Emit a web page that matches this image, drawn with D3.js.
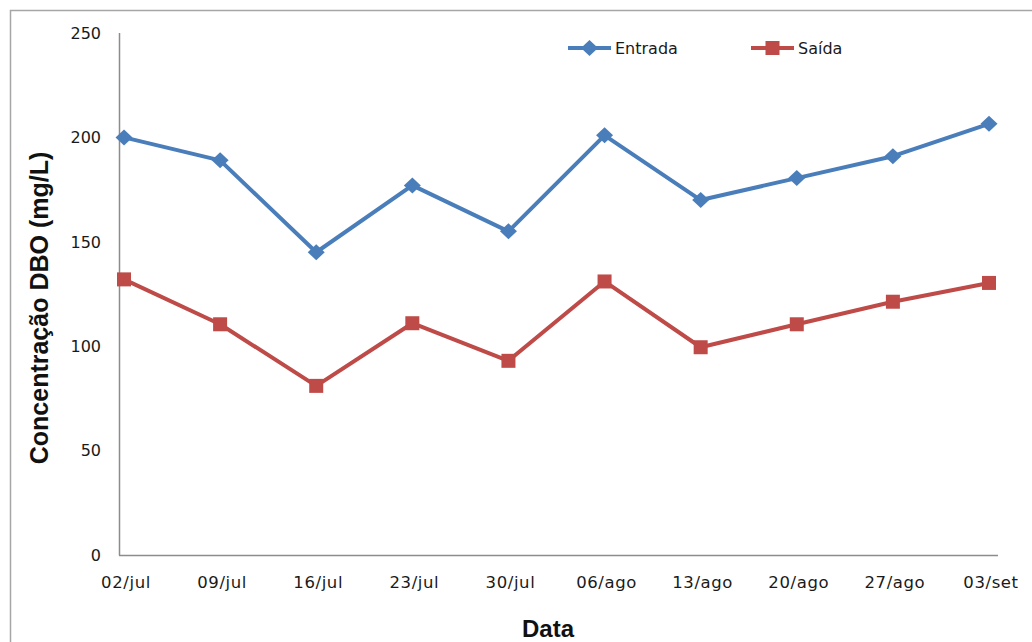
<!DOCTYPE html>
<html><head><meta charset="utf-8">
<script src="https://cdn.jsdelivr.net/npm/d3@7"></script>
<style>body{margin:0;background:#fff}</style>
</head><body>
<svg id="c" width="1032" height="642"></svg>
<script>
const categories = ["02/jul","09/jul","16/jul","23/jul","30/jul","06/ago","13/ago","20/ago","27/ago","03/set"];
const entrada = [200, 189, 145, 177, 155, 201, 170, 180.5, 191, 206.5];
const saida   = [132, 110.5, 81, 111, 93, 131, 99.5, 110.5, 121.3, 130.3];
const yTicks = [0, 50, 100, 150, 200, 250];
const seriesNames = ["Entrada", "Saída"];

const svg = d3.select("#c");
// outer frame
svg.append("rect").attr("x",10.5).attr("y",10.5).attr("width",1040).attr("height",660)
  .attr("fill","none").attr("stroke","#a6a6a6").attr("stroke-width",1.5);

const x = d3.scalePoint().domain(categories).range([124, 989]);
const y = d3.scaleLinear().domain([0, 250]).range([555, 33]);
const font = "DejaVu Sans, Verdana, sans-serif";

// axes lines
svg.append("line").attr("x1",119.5).attr("x2",119.5).attr("y1",33).attr("y2",555.5)
  .attr("stroke","#8c8c8c").attr("stroke-width",1.5);
svg.append("line").attr("x1",119).attr("x2",998).attr("y1",555.5).attr("y2",555.5)
  .attr("stroke","#8c8c8c").attr("stroke-width",1.5);

// y tick labels
svg.append("g").selectAll("text").data(yTicks).join("text")
  .attr("x",101).attr("y",d=>y(d)).attr("dy","0.36em")
  .attr("text-anchor","end").attr("font-family",font).attr("font-size",16).attr("fill","#1a1a1a")
  .text(d=>d);

// x tick labels
svg.append("g").selectAll("text").data(categories).join("text")
  .attr("x",d=>x(d)+2).attr("y",588)
  .attr("text-anchor","middle").attr("font-family",font).attr("font-size",16.5)
  .attr("letter-spacing",0.6).attr("fill","#1a1a1a")
  .text(d=>d);

// axis titles
svg.append("text").attr("transform","translate(48,308) rotate(-90)")
  .attr("text-anchor","middle").attr("font-family","Liberation Sans, Arial, sans-serif")
  .attr("font-weight","bold").attr("font-size",25).attr("fill","#111")
  .text("Concentração DBO (mg/L)");
svg.append("text").attr("x",548).attr("y",637)
  .attr("text-anchor","middle").attr("font-family","Liberation Sans, Arial, sans-serif")
  .attr("font-weight","bold").attr("font-size",24).attr("fill","#111")
  .text("Data");

const colors = ["#4a7ebb", "#be4b48"];
const data = [entrada, saida];
const line = d3.line().x((d,i)=>x(categories[i])).y(d=>y(d));

data.forEach((vals, s) => {
  svg.append("path").datum(vals).attr("d", line)
    .attr("fill","none").attr("stroke",colors[s]).attr("stroke-width",4).attr("stroke-linejoin","round");
});
// markers
const diamond = "M0,-8L8.5,0L0,8L-8.5,0Z";
svg.append("g").selectAll("path").data(entrada).join("path")
  .attr("transform",(d,i)=>`translate(${x(categories[i])},${y(d)})`)
  .attr("d", diamond).attr("fill",colors[0]);
svg.append("g").selectAll("rect").data(saida).join("rect")
  .attr("x",(d,i)=>x(categories[i])-7).attr("y",d=>y(d)-7)
  .attr("width",14).attr("height",14).attr("fill",colors[1]);

// legend
const leg = [{x:568, name:seriesNames[0], c:colors[0], m:"d"},{x:751, name:seriesNames[1], c:colors[1], m:"s"}];
leg.forEach(l => {
  svg.append("line").attr("x1",l.x).attr("x2",l.x+43).attr("y1",48).attr("y2",48)
    .attr("stroke",l.c).attr("stroke-width",4);
  if (l.m==="d") svg.append("path").attr("transform",`translate(${l.x+21.5},48)`).attr("d",diamond).attr("fill",l.c);
  else svg.append("rect").attr("x",l.x+14.5).attr("y",41).attr("width",14).attr("height",14).attr("fill",l.c);
  svg.append("text").attr("x",l.x+47).attr("y",54).attr("font-family",font).attr("font-size",16)
    .attr("fill","#1a1a1a").text(l.name);
});
</script>
</body></html>
